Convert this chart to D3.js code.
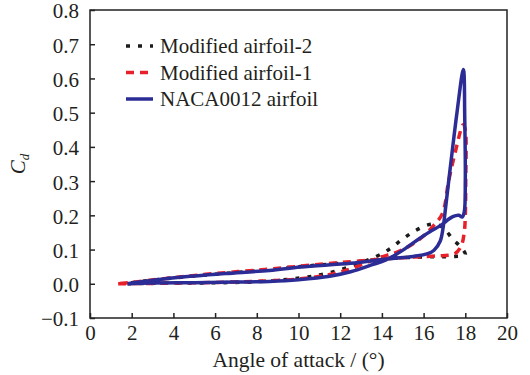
<!DOCTYPE html>
<html>
<head>
<meta charset="utf-8">
<script src="https://cdn.jsdelivr.net/npm/d3@7"></script>
<style>
  body { margin: 0; background: #fff; }
</style>
</head>
<body>
<div id="chart"></div>
<script>
const FONT = "'Liberation Serif'";

// axis ticks
const xTicks = [0, 2, 4, 6, 8, 10, 12, 14, 16, 18, 20];
const yTicks = [-0.1, 0.0, 0.1, 0.2, 0.3, 0.4, 0.5, 0.6, 0.7, 0.8];

// Modified airfoil-2 (dotted black)
const mod2Alpha = [1.8, 4, 6, 8, 10.1, 11.4, 12.6, 13.8, 14.4, 15.0, 15.6, 16.2, 16.6, 17.0, 17.4, 17.76, 18.0,
  17.5, 16.5, 15, 14, 12, 10, 8, 6, 4, 2, 1.8];
const mod2Cd = [0.0, 0.002, 0.003, 0.006, 0.017, 0.031, 0.053, 0.082, 0.103, 0.131, 0.155, 0.172, 0.174, 0.16, 0.13, 0.109, 0.085,
  0.080, 0.079, 0.076, 0.072, 0.060, 0.050, 0.038, 0.028, 0.017, 0.003, 0.0];

// Modified airfoil-1 (dashed red)
const mod1Alpha = [1.35, 4, 6, 8, 10, 11.5, 12.6, 13.8, 14.9, 15.8, 16.4, 16.9, 17.2, 17.5, 17.9, 18.0, 18.02, 18.0, 17.95, 17.8, 17.5,
  16.8, 15.5, 14, 12, 10, 8, 6, 4, 2, 1.35];
const mod1Cd = [0.0, 0.002, 0.004, 0.007, 0.014, 0.027, 0.046, 0.075, 0.097, 0.13, 0.165, 0.205, 0.30, 0.38, 0.465, 0.45, 0.30, 0.20, 0.15, 0.11, 0.088,
  0.082, 0.078, 0.072, 0.062, 0.051, 0.040, 0.030, 0.018, 0.004, 0.0];

// NACA0012 airfoil (solid blue)
const nacaAlpha = [1.8, 3, 5, 7, 8.6, 10, 11.5, 12.5, 13.5, 14.2, 14.9, 15.7, 16.3, 16.8, 17.4, 17.7, 17.85, 17.95, 18.0, 17.97, 17.93,
  17.9, 17.6, 17.3, 17.05, 16.95, 16.8, 16.5, 16.2, 15.5, 14.5, 13.9, 12.5, 10.1, 8.6, 6.5, 4.8, 3, 1.8];
const nacaCd = [0.0, 0.002, 0.003, 0.005, 0.007, 0.012, 0.022, 0.035, 0.055, 0.07, 0.094, 0.128, 0.152, 0.17, 0.196, 0.2, 0.195, 0.21, 0.30, 0.50, 0.62,
  0.626, 0.50, 0.35, 0.22, 0.17, 0.125, 0.098, 0.088, 0.08, 0.074, 0.07, 0.06, 0.049, 0.039, 0.03, 0.022, 0.01, 0.0];

const series = [
  { name: "Modified airfoil-2", alpha: mod2Alpha, cd: mod2Cd, color: "#1b1b1b", dash: "4,8" },
  { name: "Modified airfoil-1", alpha: mod1Alpha, cd: mod1Cd, color: "#e8202a", dash: "8,6" },
  { name: "NACA0012 airfoil", alpha: nacaAlpha, cd: nacaCd, color: "#2b2c95", dash: null }
];

const width = 530, height = 375;
const margin = { top: 10, right: 23, bottom: 57, left: 90 };
const w = width - margin.left - margin.right;
const h = height - margin.top - margin.bottom;

const svg = d3.select("#chart").append("svg")
  .attr("width", width)
  .attr("height", height);

const g = svg.append("g")
  .attr("transform", `translate(${margin.left},${margin.top})`);

const x = d3.scaleLinear().domain([0, 20]).range([0, w]);
const y = d3.scaleLinear().domain([-0.1, 0.8]).range([h, 0]);

// curves
const line = d3.line()
  .x(d => x(d[0]))
  .y(d => y(d[1]))
  .curve(d3.curveCatmullRom.alpha(0.5));

series.forEach(s => {
  g.append("path")
    .datum(s.alpha.map((a, i) => [a, s.cd[i]]))
    .attr("fill", "none")
    .attr("stroke", s.color)
    .attr("stroke-width", 3.5)
    .attr("stroke-dasharray", s.dash)
    .attr("stroke-linejoin", "round")
    .attr("d", line);
});

// frame
g.append("rect")
  .attr("width", w)
  .attr("height", h)
  .attr("fill", "none")
  .attr("stroke", "#222")
  .attr("stroke-width", 1.5);

// axes, ticks inside
const xAxis = g.append("g")
  .attr("transform", `translate(0,${h})`)
  .call(d3.axisBottom(x).tickValues(xTicks).tickSizeInner(-5).tickSizeOuter(0).tickPadding(7));

const yAxis = g.append("g")
  .call(d3.axisLeft(y).tickValues(yTicks).tickSizeInner(-5).tickSizeOuter(0).tickPadding(11)
    .tickFormat(d => (d < 0 ? "\u2212" : "") + Math.abs(d).toFixed(1)));

[xAxis, yAxis].forEach(ax => {
  ax.select(".domain").remove();
  ax.selectAll(".tick line").attr("stroke", "#222").attr("stroke-width", 1.5);
  ax.selectAll(".tick text")
    .attr("fill", "#231f20")
    .style("font-family", FONT)
    .style("font-size", "21px");
});
yAxis.selectAll(".tick text").attr("dy", "0.38em");

// axis titles
svg.append("text")
  .attr("x", margin.left + w / 2)
  .attr("y", 367)
  .attr("text-anchor", "middle")
  .attr("fill", "#231f20")
  .style("font-family", FONT)
  .style("font-size", "21.5px")
  .text("Angle of attack / (\u00b0)");

const yTitle = svg.append("text")
  .attr("transform", `translate(25,${margin.top + h / 2}) rotate(-90)`)
  .attr("text-anchor", "middle")
  .attr("fill", "#231f20")
  .style("font-family", FONT)
  .style("font-size", "21px")
  .style("font-style", "italic");
yTitle.append("tspan").text("C");
yTitle.append("tspan").attr("dy", 4).style("font-size", "13px").text("d");

// legend
const legend = svg.append("g").attr("transform", "translate(126,46)");
series.forEach((s, i) => {
  const row = legend.append("g").attr("transform", `translate(0,${i * 26.5})`);
  row.append("line")
    .attr("x1", 0).attr("x2", 27)
    .attr("stroke", s.color)
    .attr("stroke-width", 3.5)
    .attr("stroke-dasharray", s.dash);
  row.append("text")
    .attr("x", 34)
    .attr("y", 7)
    .attr("fill", "#231f20")
    .style("font-family", FONT)
    .style("font-size", "21px")
    .text(s.name);
});
</script>
</body>
</html>
